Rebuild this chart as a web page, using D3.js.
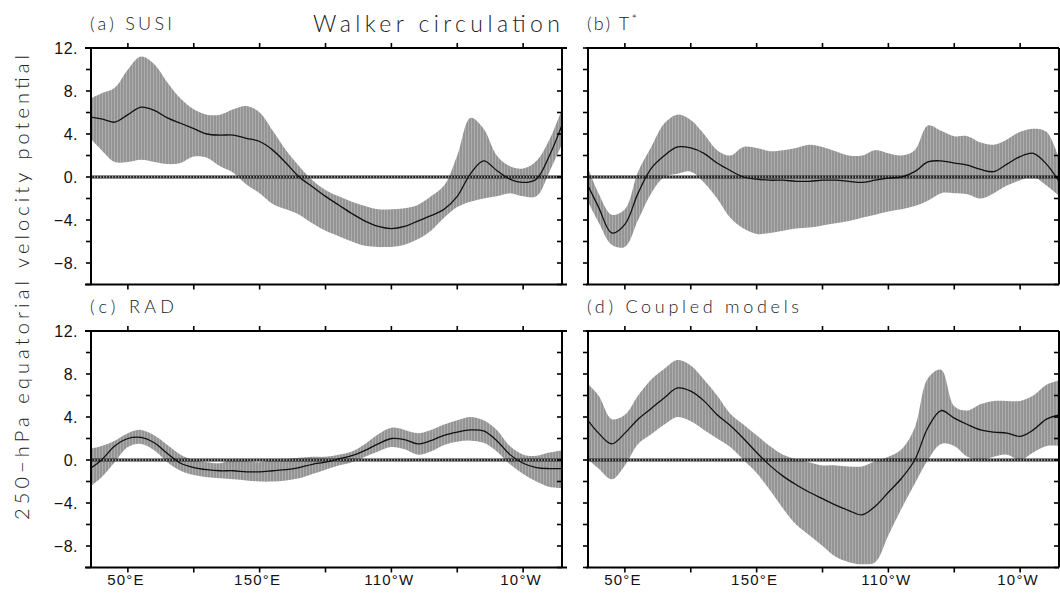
<!DOCTYPE html>
<html><head><meta charset="utf-8">
<script src="https://cdn.jsdelivr.net/npm/d3@7"></script>
<style>body{margin:0;background:#fff}</style>
</head><body><svg id="chart" width="1060" height="597"></svg>
<script>
// ---------------- data ----------------
const lon = [20,30,40,50,60,70,80,90,100,110,120,130,140,150,160,170,180,190,200,210,220,230,240,250,260,270,280,290,300,310,320,330,340,350,360,370,380];

const susiMean = [5.6,5.4,5.1,5.8,6.5,6.2,5.5,5.0,4.5,4.0,3.9,3.9,3.6,3.3,2.5,1.3,0.0,-0.9,-1.8,-2.6,-3.4,-4.1,-4.6,-4.8,-4.6,-4.1,-3.6,-3.0,-1.8,0.3,1.5,0.6,-0.2,-0.5,-0.2,2.0,5.0];
const susiHi   = [7.2,7.8,8.3,10.0,11.2,10.5,8.8,7.3,6.3,5.8,5.8,6.3,6.6,6.0,4.3,2.5,1.0,-0.3,-1.2,-1.8,-2.3,-2.7,-3.0,-3.0,-2.9,-2.6,-1.8,-0.8,2.0,5.5,4.5,2.0,1.0,0.8,1.5,3.5,6.5];
const susiLo   = [3.8,2.5,1.4,1.4,1.6,1.4,1.2,1.3,1.9,1.8,1.0,0.4,-0.7,-1.5,-2.5,-3.0,-3.5,-4.3,-5.0,-5.5,-6.0,-6.4,-6.5,-6.5,-6.3,-5.8,-5.0,-3.8,-2.8,-2.3,-2.0,-1.8,-1.5,-1.8,-1.8,0.5,3.2];

const tstarMean = [-0.3,-2.8,-5.2,-4.4,-1.5,0.8,2.0,2.8,2.7,2.2,1.3,0.6,0.0,-0.2,-0.3,-0.3,-0.4,-0.4,-0.3,-0.3,-0.4,-0.5,-0.3,-0.1,0.0,0.5,1.4,1.5,1.3,1.1,0.7,0.5,1.2,1.9,2.2,1.2,-0.5];
const tstarHi   = [1.5,-1.5,-3.5,-3.0,0.5,2.8,5.0,5.8,5.3,4.0,2.5,2.0,2.8,2.7,2.4,2.5,2.7,3.0,2.8,2.4,2.0,2.0,2.5,2.2,2.0,2.5,4.8,4.3,3.8,3.8,3.2,3.0,3.5,4.2,4.5,4.2,1.5];
const tstarLo   = [-1.8,-4.2,-6.3,-6.5,-4.0,-1.5,0.0,0.3,0.5,-0.5,-2.0,-3.8,-4.8,-5.3,-5.2,-5.0,-4.8,-4.7,-4.5,-4.3,-4.1,-3.8,-3.5,-3.2,-3.0,-2.7,-2.2,-1.5,-1.5,-1.6,-2.0,-1.5,-0.8,-0.3,0.0,-0.8,-1.8];

const radMean = [-0.9,0.0,1.3,2.0,2.1,1.6,0.6,-0.3,-0.7,-0.9,-1.0,-1.0,-1.1,-1.1,-1.0,-0.9,-0.7,-0.4,-0.2,0.1,0.4,0.9,1.5,2.0,1.9,1.5,1.8,2.3,2.6,2.8,2.7,1.8,0.5,-0.3,-0.7,-0.8,-0.8];
const radHi   = [1.0,1.3,1.8,2.5,2.8,2.3,1.4,0.5,0.0,-0.2,-0.3,0.1,-0.1,-0.2,0.0,0.1,0.2,0.3,0.3,0.5,0.8,1.5,2.4,3.0,2.8,2.5,2.8,3.3,3.7,4.0,3.7,2.8,1.3,0.5,0.4,0.7,0.9];
const radLo   = [-2.6,-1.6,-0.2,1.2,1.5,0.9,-0.2,-1.0,-1.4,-1.6,-1.7,-1.8,-1.9,-2.0,-2.0,-1.9,-1.7,-1.3,-0.9,-0.5,-0.2,0.3,0.8,1.2,1.0,0.5,0.8,1.4,1.7,1.8,1.6,0.8,-0.4,-1.3,-2.0,-2.5,-2.6];

const cplMean = [4.0,2.5,1.5,2.5,3.8,4.8,5.8,6.7,6.4,5.5,4.2,3.2,2.0,0.7,-0.5,-1.5,-2.3,-3.0,-3.6,-4.2,-4.7,-5.1,-4.3,-3.0,-1.7,0.0,3.0,4.6,3.9,3.3,2.8,2.6,2.5,2.2,2.8,3.8,4.2];
const cplHi   = [7.3,6.0,3.8,4.2,6.0,7.5,8.5,9.3,8.8,7.5,6.0,4.3,3.3,2.3,1.3,0.5,0.1,-0.2,-0.5,-0.5,-0.6,-0.6,-0.1,0.3,1.0,3.0,7.6,8.4,5.0,4.6,5.2,5.5,5.5,5.5,6.0,7.0,7.4];
const cplLo   = [0.3,-0.8,-1.8,-0.5,1.5,2.4,3.3,4.0,3.6,2.8,2.0,1.2,0.0,-1.2,-2.8,-4.5,-6.0,-7.0,-8.0,-9.0,-9.5,-9.7,-9.5,-7.0,-4.5,-2.2,0.0,1.5,1.3,0.3,0.0,0.3,0.5,0.0,0.7,1.3,1.3];

const panelNames  = ["(a) SUSI", "(b) T", "(c) RAD", "(d) Coupled models"];
const xTickValues = [50,100,150,200,250,300,350];
const xLabelValues = [50,150,250,350];
const yTickValues = [-10,-8,-6,-4,-2,0,2,4,6,8,10,12];
const yLabelValues = [-8,-4,0,4,8,12];
const mainTitle = "Walker circulation";
const yTitle = "250\u2212hPa equatorial velocity potential";

// ---------------- layout ----------------
const svg = d3.select("#chart");
const FONT = "Lato, 'DejaVu Sans', sans-serif";
const NUMFONT = "'Liberation Sans', Arial, sans-serif";

const defs = svg.append("defs");
const pat = defs.append("pattern").attr("id","hatch").attr("patternUnits","userSpaceOnUse")
  .attr("width",3).attr("height",10);
pat.append("rect").attr("width",3).attr("height",10).attr("fill","#949494");
pat.append("rect").attr("x",0).attr("width",0.8).attr("height",10).attr("fill","#b4b4b4");

const panels = [
  {name:panelNames[0], mean:susiMean, hi:susiHi, lo:susiLo, x0:91, x1:562, y0:48, y1:284.5, ext:[6,5], xlab:false, ylab:true, tw:82},
  {name:panelNames[1], mean:tstarMean, hi:tstarHi, lo:tstarLo, x0:588, x1:1059, y0:48, y1:284.5, ext:[2,0], xlab:false, ylab:false, tw:0},
  {name:panelNames[2], mean:radMean, hi:radHi, lo:radLo, x0:91, x1:562, y0:331, y1:567.5, ext:[6,5], xlab:true, ylab:true, tw:84},
  {name:panelNames[3], mean:cplMean, hi:cplHi, lo:cplLo, x0:588, x1:1059, y0:331, y1:567.5, ext:[2,0], xlab:true, ylab:false, tw:212}
];

const fmtLon = v => v <= 180 ? v + "\u00B0E" : (360 - v) + "\u00B0W";
const fmtY = v => (v < 0 ? "\u2212" + (-v) : String(v)) + ".";
const curve = d3.curveCatmullRom.alpha(0.5);

panels.forEach((p, i) => {
  const x = d3.scaleLinear().domain([22, 379.5]).range([p.x0, p.x1]);
  const y = d3.scaleLinear().domain([-10, 12]).range([p.y1, p.y0]);
  const g = svg.append("g");
  const cid = "clip" + i;
  defs.append("clipPath").attr("id", cid).append("rect")
    .attr("x", p.x0).attr("y", p.y0).attr("width", p.x1 - p.x0).attr("height", p.y1 - p.y0);

  const rows = lon.map((L, k) => ({L, m:p.mean[k], h:p.hi[k], l:p.lo[k]}));
  const plot = g.append("g").attr("clip-path", `url(#${cid})`);
  plot.append("path").datum(rows)
    .attr("d", d3.area().curve(curve).x(d => x(d.L)).y0(d => y(d.l)).y1(d => y(d.h)))
    .attr("fill", "url(#hatch)");
  // zero line (chain-like)
  plot.append("line").attr("x1", p.x0).attr("x2", p.x1).attr("y1", y(0)).attr("y2", y(0))
    .attr("stroke", "#222").attr("stroke-width", 3.2);
  plot.append("line").attr("x1", p.x0).attr("x2", p.x1).attr("y1", y(0)).attr("y2", y(0))
    .attr("stroke", "#fff").attr("stroke-width", 1.1).attr("stroke-dasharray", "1.3,1.7");
  plot.append("path").datum(rows)
    .attr("d", d3.line().curve(curve).x(d => x(d.L)).y(d => y(d.m)))
    .attr("fill", "none").attr("stroke", "#111").attr("stroke-width", 1.3);

  // frame
  const fr = g.append("g").attr("stroke", "#000").attr("stroke-width", 2).attr("fill", "none");
  fr.append("line").attr("x1", p.x0 - p.ext[0]).attr("x2", p.x1 + p.ext[1]).attr("y1", p.y0).attr("y2", p.y0);
  fr.append("line").attr("x1", p.x0 - p.ext[0]).attr("x2", p.x1 + p.ext[1]).attr("y1", p.y1).attr("y2", p.y1);
  fr.append("line").attr("x1", p.x0).attr("x2", p.x0).attr("y1", p.y0).attr("y2", p.y1);
  fr.append("line").attr("x1", p.x1).attr("x2", p.x1).attr("y1", p.y0).attr("y2", p.y1);

  // x ticks (outward top and bottom)
  const tk = g.append("g").attr("stroke", "#000").attr("stroke-width", 1.6);
  xTickValues.forEach(v => {
    tk.append("line").attr("x1", x(v)).attr("x2", x(v)).attr("y1", p.y0).attr("y2", p.y0 - 5);
    tk.append("line").attr("x1", x(v)).attr("x2", x(v)).attr("y1", p.y1).attr("y2", p.y1 + 5);
  });
  // y ticks (outward left, inward right)
  yTickValues.forEach(v => {
    tk.append("line").attr("x1", p.x0).attr("x2", p.x0 - 5).attr("y1", y(v)).attr("y2", y(v));
    tk.append("line").attr("x1", p.x1).attr("x2", p.x1 - 5).attr("y1", y(v)).attr("y2", y(v));
  });

  // y labels
  if (p.ylab) {
    yLabelValues.forEach(v => {
      g.append("text").attr("x", p.x0 - 13).attr("y", y(v)).attr("dy", "0.36em")
        .attr("text-anchor", "end").attr("font-family", NUMFONT).attr("font-size", 16)
        .attr("letter-spacing", 0.5).attr("fill", "#111").text(fmtY(v));
    });
  }
  // x labels
  if (p.xlab) {
    xLabelValues.forEach(v => {
      g.append("text").attr("x", x(v) - 2).attr("y", p.y1 + 17)
        .attr("text-anchor", "middle").attr("font-family", NUMFONT).attr("font-size", 15)
        .attr("letter-spacing", 1.2).attr("fill", "#111").text(fmtLon(v));
    });
  }
  // panel title
  const t = g.append("text").attr("x", p.x0 - 1).attr("y", p.y0 - 18)
    .attr("font-family", FONT).attr("font-weight", 300).attr("font-size", 18).attr("fill", "#222");
  if (i === 1) {
    t.append("tspan").text(p.name).attr("letter-spacing", 2.2);
    t.append("tspan").text("*").attr("font-size", 13).attr("dy", -6);
  } else {
    t.text(p.name).attr("textLength", p.tw).attr("lengthAdjust", "spacing");
  }
});

// main title
svg.append("text").attr("x", 313).attr("y", 32).attr("font-family", FONT).attr("font-weight", 300)
  .attr("font-size", 23).attr("fill", "#222").attr("textLength", 247).attr("lengthAdjust", "spacing")
  .text(mainTitle);

// y-axis title
svg.append("text").attr("transform", "translate(29,520) rotate(-90)")
  .attr("font-family", FONT).attr("font-weight", 300).attr("font-size", 20).attr("fill", "#222")
  .attr("textLength", 465).attr("lengthAdjust", "spacing").text(yTitle);
</script>
</body></html>
